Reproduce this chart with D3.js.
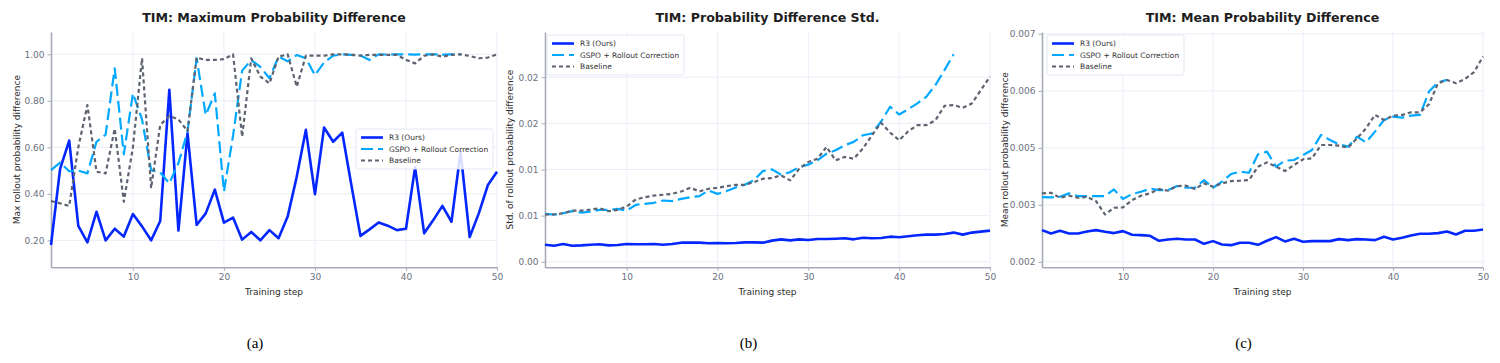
<!DOCTYPE html>
<html>
<head>
<meta charset="utf-8">
<script src="https://cdn.jsdelivr.net/npm/d3@7"></script>
<style>
  body { margin: 0; background: #ffffff; }
  svg text { font-family: "DejaVu Sans", sans-serif; }
</style>
</head>
<body>
<div id="chart"></div>
<script>
// training steps on the x axis
const steps = d3.range(1, 51);
const seriesNames = ["R3 (Ours)", "GSPO + Rollout Correction", "Baseline"];
const xTicks = [10, 20, 30, 40, 50];

// (a) maximum probability difference
const r3Max = [0.18, 0.507, 0.629, 0.262, 0.191, 0.323, 0.20, 0.25, 0.216, 0.313,
  0.26, 0.20, 0.283, 0.847, 0.242, 0.66, 0.266, 0.316, 0.418, 0.276,
  0.298, 0.203, 0.236, 0.20, 0.244, 0.209, 0.302, 0.474, 0.675, 0.398,
  0.685, 0.624, 0.663, 0.438, 0.219, 0.247, 0.277, 0.263, 0.244, 0.25,
  0.514, 0.23, 0.287, 0.348, 0.28, 0.581, 0.214, 0.316, 0.438, 0.495];
const gspoMax = [0.502, 0.534, 0.497, 0.50, 0.488, 0.624, 0.655, 0.94, 0.57, 0.832,
  0.72, 0.502, 0.492, 0.445, 0.532, 0.668, 0.983, 0.739, 0.832, 0.41,
  0.65, 0.93, 0.975, 0.946, 0.897, 0.99, 0.97, 0.997, 0.983, 0.91,
  0.965, 0.994, 1.0, 0.998, 0.995, 0.976, 1.0, 0.999, 1.0, 1.0,
  0.999, 1.0, 1.0, 0.999, 1.0, 1.0];
const baseMax = [0.369, 0.359, 0.348, 0.60, 0.782, 0.495, 0.488, 0.68, 0.366, 0.6,
  0.983, 0.424, 0.696, 0.735, 0.72, 0.67, 0.986, 0.976, 0.976, 0.979,
  1.0, 0.646, 0.983, 0.904, 0.875, 0.99, 1.0, 0.861, 0.994, 0.994,
  0.994, 1.0, 1.0, 0.998, 0.994, 0.998, 0.998, 0.998, 0.998, 0.976,
  0.961, 0.994, 1.0, 0.99, 0.998, 1.0, 0.993, 0.983, 0.986, 1.0];
const maxTicks = [0.2, 0.4, 0.6, 0.8, 1.0];
const maxTickLabels = ["0.20", "0.40", "0.60", "0.80", "1.00"];

// (b) std of probability difference
const r3Std = [0.00185, 0.00174, 0.00192, 0.00174, 0.00178, 0.00185, 0.00189, 0.00178, 0.00181, 0.00192,
  0.00189, 0.00189, 0.00192, 0.00185, 0.00192, 0.00207, 0.00207, 0.00207, 0.0020, 0.00203,
  0.0020, 0.00203, 0.0021, 0.0021, 0.00207, 0.00229, 0.00243, 0.00232, 0.00243, 0.00236,
  0.00247, 0.00247, 0.0025, 0.00254, 0.00243, 0.00261, 0.00254, 0.00258, 0.00272, 0.00265,
  0.00276, 0.00287, 0.00294, 0.00294, 0.00301, 0.00316, 0.00294, 0.00316, 0.00327, 0.00337];
const gspoStd = [0.00519, 0.00512, 0.00526, 0.00548, 0.00533, 0.00544, 0.00562, 0.00562, 0.00573, 0.00555,
  0.00617, 0.00628, 0.00639, 0.00664, 0.00657, 0.00682, 0.0070, 0.00711, 0.00773, 0.00736,
  0.00766, 0.00805, 0.00834, 0.00882, 0.00983, 0.01001, 0.00943, 0.00972, 0.01027, 0.01052,
  0.01099, 0.01172, 0.01208, 0.01263, 0.01299, 0.01371, 0.0139, 0.01517, 0.0168, 0.01596,
  0.01654, 0.01716, 0.01789, 0.01916, 0.02079, 0.02249];
const baseStd = [0.00512, 0.00512, 0.00526, 0.00555, 0.00555, 0.00566, 0.0058, 0.00548, 0.00562, 0.00599,
  0.00675, 0.0070, 0.00718, 0.00726, 0.00736, 0.00762, 0.00802, 0.00762, 0.00791, 0.00802,
  0.0082, 0.00834, 0.00834, 0.00863, 0.0090, 0.00907, 0.00936, 0.00882, 0.01009, 0.01081,
  0.01117, 0.01244, 0.01099, 0.01136, 0.01117, 0.01226, 0.01371, 0.01506, 0.0140, 0.01317,
  0.01415, 0.0148, 0.0148, 0.01535, 0.01691, 0.01698, 0.01669, 0.01716, 0.01861, 0.02006];
const stdTicks = [0, 0.005, 0.01, 0.015, 0.02];
const stdTickLabels = ["0.00", "0.01", "0.01", "0.02", "0.02"];

// (c) mean probability difference
const r3Mean = [0.002695, 0.002622, 0.002681, 0.002622, 0.002622, 0.002666, 0.002695, 0.002659, 0.00263, 0.002673,
  0.002593, 0.002586, 0.002571, 0.002461, 0.00249, 0.002505, 0.00249, 0.00249, 0.002395, 0.002454,
  0.002381, 0.002366, 0.002417, 0.002417, 0.002373, 0.002461, 0.002542, 0.002447, 0.002505, 0.002439,
  0.002454, 0.002454, 0.002454, 0.002498, 0.002476, 0.002498, 0.00249, 0.002476, 0.002549, 0.00249,
  0.002527, 0.002578, 0.002615, 0.002615, 0.00263, 0.002666, 0.0026, 0.002681, 0.002681, 0.00271];
const gspoMean = [0.00342, 0.003413, 0.003427, 0.003501, 0.003442, 0.003442, 0.003442, 0.003442, 0.003588, 0.003376,
  0.003486, 0.003537, 0.003603, 0.003574, 0.003574, 0.003662, 0.003625, 0.003625, 0.003793, 0.003625,
  0.003757, 0.003925, 0.003976, 0.003954, 0.004357, 0.004416, 0.004086, 0.004218, 0.004233, 0.004342,
  0.004452, 0.004782, 0.004672, 0.004577, 0.004525, 0.004745, 0.00462, 0.004855, 0.005111, 0.005184,
  0.005162, 0.005206, 0.005221, 0.005733, 0.005938, 0.005989];
const baseMean = [0.003501, 0.003515, 0.003405, 0.003449, 0.003405, 0.003427, 0.003332, 0.003039, 0.003186, 0.003193,
  0.003354, 0.003449, 0.003501, 0.003596, 0.003559, 0.003662, 0.003669, 0.003596, 0.00372, 0.003647,
  0.00372, 0.003771, 0.003779, 0.003793, 0.004086, 0.004181, 0.004086, 0.003991, 0.004123, 0.004247,
  0.004269, 0.004562, 0.004562, 0.004547, 0.004503, 0.004708, 0.004928, 0.005221, 0.005111, 0.005206,
  0.005221, 0.005279, 0.005279, 0.005455, 0.005916, 0.005989, 0.005916, 0.006011, 0.006158, 0.006502];
const meanTicks = [0.002, 0.00325, 0.0045, 0.00575, 0.007];
const meanTickLabels = ["0.002", "0.003", "0.005", "0.006", "0.007"];

// line styles per series: R3, GSPO, Baseline
const lineStyles = [
  { color: "#0527ff", width: 2.6, dash: null },
  { color: "#00a8ff", width: 2.2, dash: "12,5" },
  { color: "#5d6370", width: 2.2, dash: "4,3" }
];

const panels = [
  { title: "TIM: Maximum Probability Difference", ylabel: "Max rollout probability difference",
    caption: "(a)", left: 51, right: 497, ylabelX: 17, yDomain: [0.084, 1.096],
    ticks: maxTicks, tickLabels: maxTickLabels, series: [r3Max, gspoMax, baseMax],
    legend: { x: 356, y: 129 } },
  { title: "TIM: Probability Difference Std.", ylabel: "Std. of rollout probability difference",
    caption: "(b)", left: 545, right: 990, ylabelX: 510, yDomain: [-0.0006, 0.0249],
    ticks: stdTicks, tickLabels: stdTickLabels, series: [r3Std, gspoStd, baseStd],
    legend: { x: 547, y: 35 } },
  { title: "TIM: Mean Probability Difference", ylabel: "Mean rollout probability difference",
    caption: "(c)", left: 1042, right: 1483, ylabelX: 1005, yDomain: [0.00188, 0.00704],
    ticks: meanTicks, tickLabels: meanTickLabels, series: [r3Mean, gspoMean, baseMean],
    legend: { x: 1047, y: 35 } }
];

const plotTop = 32, plotBottom = 267.3;
const spineColor = "#a7abb8", gridColor = "#e6e8f6", tickText = "#6b7080";

var svg = d3.select("#chart").append("svg")
  .attr("width", 1500)
  .attr("height", 363);

panels.forEach(function (p) {
  var x = d3.scaleLinear().domain([1, 50]).range([p.left, p.right]);
  var y = d3.scaleLinear().domain(p.yDomain).range([plotBottom, plotTop]);
  var g = svg.append("g");

  // grid
  g.selectAll("line.vgrid").data(xTicks).enter().append("line")
    .attr("x1", d => x(d)).attr("x2", d => x(d))
    .attr("y1", plotTop).attr("y2", plotBottom)
    .attr("stroke", gridColor).attr("stroke-width", 0.8);
  g.selectAll("line.hgrid").data(p.ticks).enter().append("line")
    .attr("x1", p.left).attr("x2", p.right)
    .attr("y1", d => y(d)).attr("y2", d => y(d))
    .attr("stroke", gridColor).attr("stroke-width", 0.8);

  // axes
  var xAxis = g.append("g")
    .attr("transform", "translate(0," + plotBottom + ")")
    .call(d3.axisBottom(x).tickValues(xTicks).tickSize(3.5).tickSizeOuter(0).tickPadding(3));
  var yAxis = g.append("g")
    .attr("transform", "translate(" + p.left + ",0)")
    .call(d3.axisLeft(y).tickValues(p.ticks).tickFormat((d, i) => p.tickLabels[i])
      .tickSize(3.5).tickSizeOuter(0).tickPadding(3));
  [xAxis, yAxis].forEach(function (a) {
    a.select(".domain").attr("stroke", spineColor).attr("stroke-width", 1.6);
    a.selectAll(".tick line").attr("stroke", spineColor).attr("stroke-width", 1);
    a.selectAll(".tick text").attr("fill", tickText)
      .style("font-family", "'DejaVu Sans', sans-serif").style("font-size", "9px");
  });

  // lines
  var line = d3.line().x((d, i) => x(steps[i])).y(d => y(d));
  p.series.forEach(function (values, k) {
    var st = lineStyles[k];
    g.append("path")
      .datum(values)
      .attr("d", line)
      .attr("fill", "none")
      .attr("stroke", st.color)
      .attr("stroke-width", st.width)
      .attr("stroke-linejoin", "round")
      .attr("stroke-dasharray", st.dash);
  });

  // title and labels
  g.append("text")
    .attr("x", (p.left + p.right) / 2).attr("y", 21.5)
    .attr("text-anchor", "middle")
    .style("font-weight", "bold").style("font-size", "12.6px")
    .attr("fill", "#1e1e1e")
    .text(p.title);
  g.append("text")
    .attr("x", (p.left + p.right) / 2).attr("y", 295)
    .attr("text-anchor", "middle")
    .style("font-size", "9px").attr("fill", "#2a2a2a")
    .text("Training step");
  g.append("text")
    .attr("transform", "translate(" + p.ylabelX + "," + ((plotTop + plotBottom) / 2) + ") rotate(-90)")
    .attr("text-anchor", "middle").attr("dy", "0.35em")
    .style("font-size", "9px").attr("fill", "#2a2a2a")
    .text(p.ylabel);
  g.append("text")
    .attr("x", (p.left + p.right) / 2 - 19).attr("y", 348)
    .attr("text-anchor", "middle")
    .style("font-family", "'Liberation Serif', serif").style("font-size", "15px")
    .attr("fill", "#000")
    .text(p.caption);

  // legend
  var lg = g.append("g").attr("transform", "translate(" + p.legend.x + "," + p.legend.y + ")");
  lg.append("rect")
    .attr("width", 137).attr("height", 40).attr("rx", 2)
    .attr("fill", "#ffffff").attr("fill-opacity", 0.85)
    .attr("stroke", "#dfe2f2").attr("stroke-width", 0.8);
  seriesNames.forEach(function (name, k) {
    var st = lineStyles[k];
    var ly = 8.5 + k * 11.5;
    lg.append("line")
      .attr("x1", 5).attr("x2", 27).attr("y1", ly).attr("y2", ly)
      .attr("stroke", st.color).attr("stroke-width", st.width)
      .attr("stroke-dasharray", st.dash);
    lg.append("text")
      .attr("x", 33).attr("y", ly).attr("dy", "0.35em")
      .style("font-size", "7.5px").attr("fill", "#333")
      .text(name);
  });
});
</script>
</body>
</html>
